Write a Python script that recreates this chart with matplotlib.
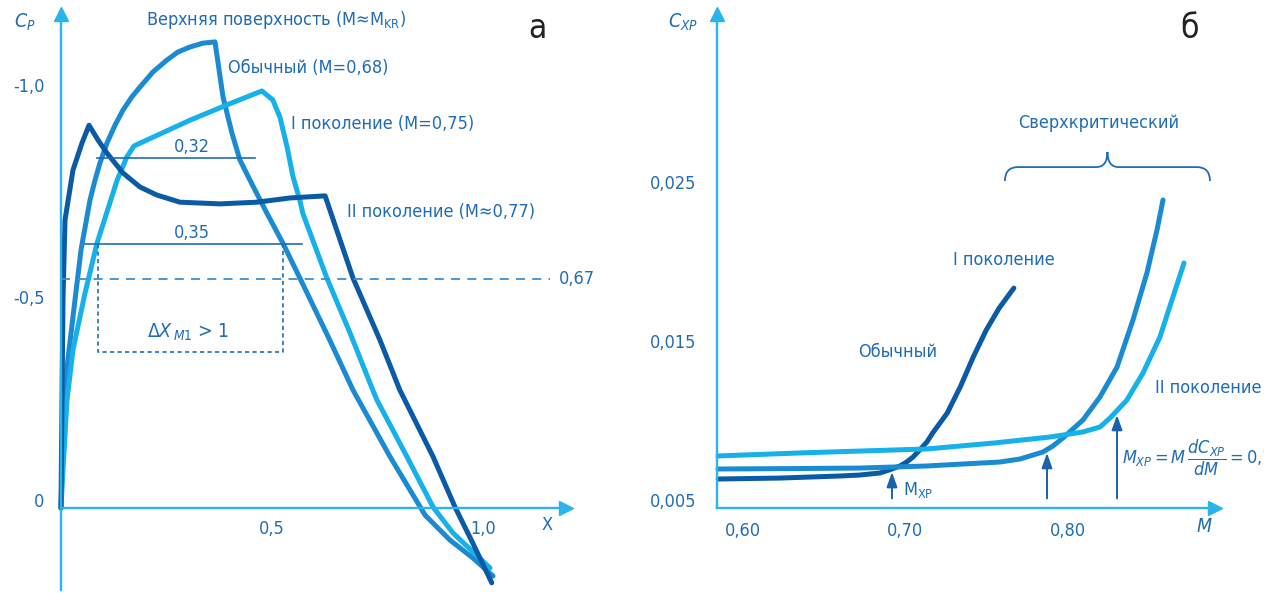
import numpy as np
import matplotlib
matplotlib.use("Agg")
import matplotlib.pyplot as plt
import matplotlib.transforms as mtrans
from matplotlib.path import Path
from matplotlib.patches import PathPatch

plt.rcParams['font.family'] = ['DejaVu Sans']
plt.rcParams['font.stretch'] = 'condensed'
plt.rcParams['mathtext.fontset'] = 'custom'
plt.rcParams['mathtext.rm'] = 'DejaVu Sans:stretch=condensed'
plt.rcParams['mathtext.it'] = 'DejaVu Sans:italic:stretch=condensed'
plt.rcParams['mathtext.bf'] = 'DejaVu Sans:bold:stretch=condensed'

NAVY, MID, LIGHT = "#0b5aa6", "#1a8bd2", "#16b0ea"
AXC, TXT = "#2ab4ec", "#1f6cb4"
FS = 13

# --- (а) upper-surface pressure distributions, Cp vs x/c ---
x_ob = [0, 0.0024, 0.0047, 0.0142, 0.0332, 0.0474, 0.0687, 0.0806, 0.0924, 0.109,
        0.128, 0.147, 0.168, 0.187, 0.218, 0.251, 0.277, 0.306, 0.336, 0.365,
        0.384, 0.405, 0.424, 0.448, 0.472, 0.488, 0.526, 0.566, 0.637, 0.692,
        0.780, 0.863, 0.922, 0.976, 1.024]
cp_ob = [0, -0.090, -0.255, -0.333, -0.492, -0.610, -0.728, -0.775, -0.816, -0.863,
         -0.905, -0.941, -0.972, -0.995, -1.031, -1.059, -1.078, -1.090, -1.099, -1.102,
         -0.972, -0.887, -0.823, -0.775, -0.728, -0.697, -0.626, -0.544, -0.397, -0.279,
         -0.121, 0.017, 0.076, 0.118, 0.161]

x_g1 = [0, 0.0047, 0.0142, 0.0284, 0.0569, 0.0853, 0.109, 0.133, 0.156, 0.173, 0.306,
        0.393, 0.476, 0.502, 0.519, 0.536, 0.550, 0.566, 0.573, 0.630, 0.685, 0.739,
        0.749, 0.820, 0.882, 0.929, 1.017]
cp_g1 = [0, -0.090, -0.255, -0.374, -0.508, -0.626, -0.700, -0.775, -0.830, -0.856, -0.917,
         -0.953, -0.986, -0.965, -0.924, -0.853, -0.783, -0.728, -0.697, -0.544, -0.414, -0.279,
         -0.255, -0.121, -0.002, 0.059, 0.142]

x_g2 = [0, 0.0012, 0.0024, 0.0047, 0.0095, 0.0284, 0.0498, 0.0664, 0.0877, 0.109, 0.147, 0.187,
        0.227, 0.282, 0.377, 0.464, 0.543, 0.626, 0.692, 0.756, 0.803, 0.815, 0.882, 0.934,
        0.976, 1.021]
cp_g2 = [0, -0.137, -0.255, -0.492, -0.681, -0.799, -0.863, -0.905, -0.870, -0.839, -0.792, -0.759,
         -0.740, -0.723, -0.719, -0.723, -0.733, -0.738, -0.544, -0.397, -0.279, -0.255, -0.121, -0.002,
         0.083, 0.177]

cp_star = -0.541                      # dashed level marked 0,67
w032 = (0.085, 0.460, -0.827)         # x0, x1, Cp of the 0,32 bar
w035 = (0.057, 0.571, -0.624)         # x0, x1, Cp of the 0,35 bar
box = (0.088, 0.526, -0.624, -0.369)  # dotted ΔX box

# --- (б) drag-rise curves, Cxp vs M ---
M_ob = [0.585, 0.623, 0.660, 0.672, 0.6846, 0.692, 0.6969, 0.701, 0.7049, 0.709, 0.7135, 0.717,
        0.726, 0.734, 0.742, 0.750, 0.758, 0.767]
C_ob = [0.00632, 0.00638, 0.00651, 0.00657, 0.00670, 0.00695, 0.00714, 0.00739, 0.00770, 0.00814,
        0.00865, 0.00921, 0.01047, 0.01211, 0.01399, 0.01569, 0.01708, 0.01833]
M_g1 = [0.5849, 0.6354, 0.6723, 0.7135, 0.7585, 0.7708, 0.7849, 0.7911, 0.7972, 0.8095, 0.8200,
        0.8305, 0.8403, 0.8489, 0.8551, 0.8588]
C_g1 = [0.00695, 0.00698, 0.00701, 0.00714, 0.00739, 0.00758, 0.00802, 0.00840, 0.00890, 0.01003,
        0.01148, 0.01336, 0.01632, 0.01928, 0.02198, 0.02387]
M_g2 = [0.5849, 0.6354, 0.6723, 0.7135, 0.7542, 0.7892, 0.8095, 0.8200, 0.8262, 0.8366, 0.8465,
        0.8569, 0.8649, 0.8717]
C_g2 = [0.00777, 0.00796, 0.00808, 0.00821, 0.00858, 0.00896, 0.00928, 0.00959, 0.01016, 0.01129,
        0.01299, 0.01525, 0.01777, 0.01991]
M_xp = [0.692, 0.7874, 0.8305]        # drag-divergence Mach numbers
C_xp = [0.00676, 0.00796, 0.01035]    # arrow tips

W, H = 1264, 593
fig = plt.figure(figsize=(W / 100, H / 100), dpi=100)


def px_axes(l, t, r, b):
    return fig.add_axes([l / W, 1 - b / H, (r - l) / W, (b - t) / H])


def ftext(px, py, s, **kw):
    fig.text(px / W, 1 - py / H, s, **kw)


def style_axes(a, xarrow_tr):
    for s in ("top", "right"):
        a.spines[s].set_visible(False)
    for s in ("left", "bottom"):
        a.spines[s].set_color(AXC)
        a.spines[s].set_linewidth(1.7)
    a.plot(0, 1, "^", ms=10, color=AXC, transform=a.transAxes, clip_on=False)
    a.plot(1, 0, ">", ms=10, color=AXC, transform=xarrow_tr, clip_on=False)
    a.tick_params(length=0, labelsize=FS, labelcolor=TXT)


lw = 3.6
curve = dict(lw=lw, solid_capstyle="round", solid_joinstyle="round", clip_on=False)

# ---------- panel а ----------
ax = px_axes(61, 14, 566, 590)
ax.set_xlim(0, 1.197)
ax.set_ylim(0.194, -1.168)
ax.spines["bottom"].set_position(("data", 0))
style_axes(ax, ax.get_yaxis_transform())
ax.set_yticks([-1.0, -0.5, 0])
ax.set_yticklabels(["-1,0", "-0,5", "0"])
ax.set_xticks([0.5, 1.0])
ax.set_xticklabels(["0,5", "1,0"])
ax.tick_params(axis="y", pad=12)
ax.tick_params(axis="x", pad=9)
zero_lbl = ax.get_yticklabels()[2]
zero_lbl.set_transform(zero_lbl.get_transform()
                       + mtrans.ScaledTranslation(0, 0.08, fig.dpi_scale_trans))

ax.plot(x_ob, cp_ob, color=MID, **curve)
ax.plot(x_g1, cp_g1, color=LIGHT, **curve)
ax.plot(x_g2, cp_g2, color=NAVY, **curve)

ax.plot([0, 1.159], [cp_star, cp_star], color="#3a8fd2", lw=1.3, ls=(0, (5, 4)))
ax.text(1.18, cp_star, "0,67", color=TXT, fontsize=FS, va="center", ha="left", clip_on=False)
ax.plot(w032[:2], [w032[2]] * 2, color=TXT, lw=1.2)
ax.text(0.31, -0.853, "0,32", color=TXT, fontsize=FS, ha="center", va="center")
ax.plot(w035[:2], [w035[2]] * 2, color=TXT, lw=1.2)
ax.text(0.31, -0.650, "0,35", color=TXT, fontsize=FS, ha="center", va="center")
bx0, bx1, by0, by1 = box
ax.plot([bx0, bx0, bx1, bx1], [by0, by1, by1, by0], color=TXT, lw=1.2, ls=(0, (2.5, 2)))
ax.text(0.301, -0.416, r"$\Delta X_{\,M1}$ > 1", color=TXT, fontsize=FS + 1, ha="center", va="center")

ax.text(0.396, -1.040, "Обычный (M=0,68)", color=TXT, fontsize=FS, va="center")
ax.text(0.545, -0.908, "I поколение (M=0,75)", color=TXT, fontsize=FS, va="center")
ax.text(0.678, -0.700, "II поколение (M≈0,77)", color=TXT, fontsize=FS, va="center")

ftext(276, 20, r"Верхняя поверхность (M≈M$_{\mathrm{KR}}$)", color=TXT, fontsize=FS,
      ha="center", va="center")
ftext(25, 22, r"$C_P$", color=TXT, fontsize=FS + 1, ha="center", va="center")
ftext(537, 28, "а", color="#222222", fontsize=24, ha="center", va="center")
ftext(547, 525, "X", color=TXT, fontsize=FS, ha="center", va="center")

# ---------- panel б ----------
bx = px_axes(717, 14, 1215, 508)
bx.set_xlim(0.5843, 0.8908)
bx.set_ylim(0.004497, 0.03557)
style_axes(bx, bx.transAxes)
bx.set_yticks([0.005, 0.015, 0.025])
bx.set_yticklabels(["0,005", "0,015", "0,025"])
bx.set_xticks([0.60, 0.70, 0.80])
bx.set_xticklabels(["0,60", "0,70", "0,80"])
bx.tick_params(axis="y", pad=15)
bx.tick_params(axis="x", pad=10)

bx.plot(M_ob, C_ob, color=NAVY, **curve)
bx.plot(M_g1, C_g1, color=MID, **curve)
bx.plot(M_g2, C_g2, color=LIGHT, **curve)

for m, c in zip(M_xp, C_xp):
    bx.annotate("", xy=(m, c), xytext=(m, 0.0051),
                arrowprops=dict(arrowstyle="-|>,head_length=0.9,head_width=0.32",
                                color="#1a62ab", lw=1.4, shrinkA=0, shrinkB=0))
bx.text(M_xp[0] + 0.007, 0.0056, r"M$_{\mathrm{XP}}$", color=TXT, fontsize=FS, va="center")
bx.text(0.8338, 0.00768, r"$M_{XP} = M\,\dfrac{dC_{XP}}{dM} = 0{,}1$", color=TXT, fontsize=FS,
        va="center", ha="left", clip_on=False)

bx.text(0.6957, 0.01431, "Обычный", color=TXT, fontsize=FS, ha="center", va="center")
bx.text(0.761, 0.0201, "I поколение", color=TXT, fontsize=FS, ha="center", va="center")
bx.text(0.8538, 0.01204, "II поколение", color=TXT, fontsize=FS, ha="left", va="center",
        clip_on=False)
bx.text(0.8190, 0.0287, "Сверхкритический", color=TXT, fontsize=FS, ha="center", va="center")

# curly brace over the supercritical curves
m0, m1, yb, ym, yt = 0.7615, 0.8877, 0.02506, 0.02594, 0.02689
mc = 0.5 * (m0 + m1)
de, dc = 0.008, 0.007
verts = [(m0, yb), (m0, ym), (m0 + de, ym),
         (mc - dc, ym), (mc, ym), (mc, yt),
         (mc, ym), (mc + dc, ym),
         (m1 - de, ym), (m1, ym), (m1, yb)]
codes = [Path.MOVETO, Path.CURVE3, Path.CURVE3,
         Path.LINETO, Path.CURVE3, Path.CURVE3,
         Path.CURVE3, Path.CURVE3,
         Path.LINETO, Path.CURVE3, Path.CURVE3]
bx.add_patch(PathPatch(Path(verts, codes), fill=False, edgecolor=TXT, lw=1.3))

ftext(683, 22, r"$C_{XP}$", color=TXT, fontsize=FS + 1, ha="center", va="center")
ftext(1190, 28, "б", color="#222222", fontsize=24, ha="center", va="center")
ftext(1204, 527, r"$M$", color=TXT, fontsize=FS + 1, ha="center", va="center")

fig.savefig("out.png", dpi=100)
